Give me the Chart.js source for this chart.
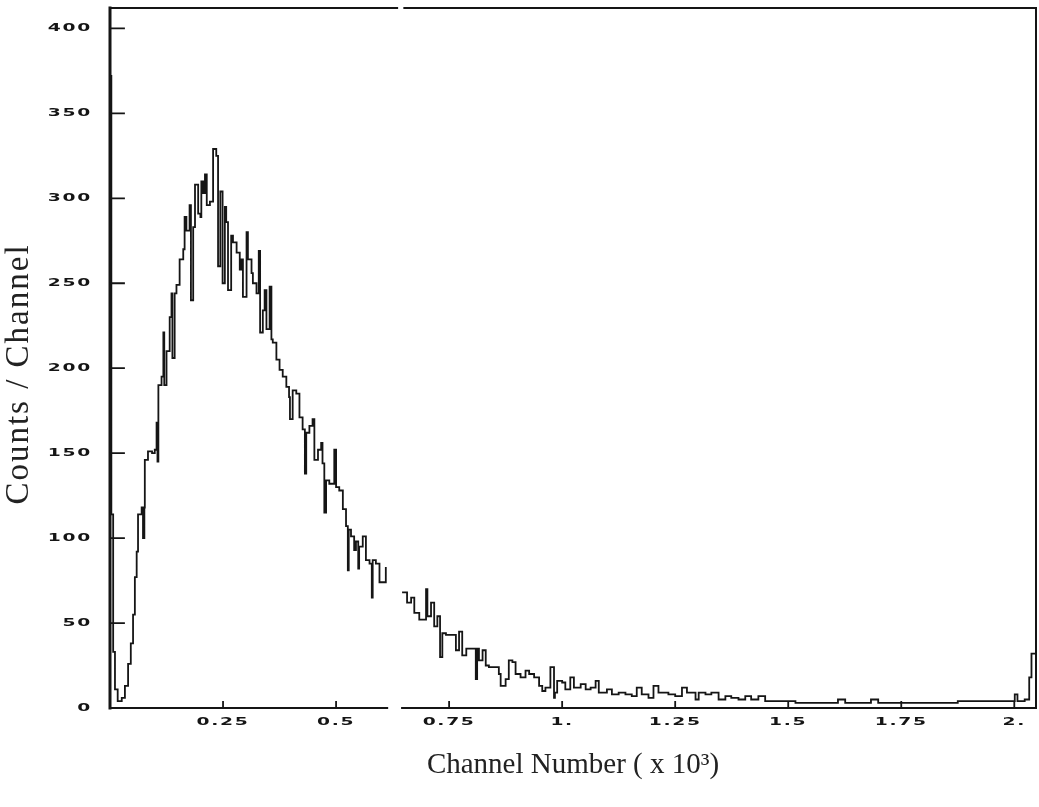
<!DOCTYPE html>
<html>
<head>
<meta charset="utf-8">
<title>Counts / Channel</title>
<script src="https://cdn.jsdelivr.net/npm/chart.js@4.4.1/dist/chart.umd.min.js"></script>
<style>
  html, body { margin: 0; padding: 0; background: #fff; }
  #spectrum { display: block; }
</style>
</head>
<body>
<canvas id="spectrum" width="1039" height="807"></canvas>
<script>
// pulse-height spectrum, 2048 channels
const channels = [
     0,    3,    7,   11,   17,   26,   33,   40,   46,   51,   55,   59,   62,   70,   73,   76,
    77,   84,   93,   99,  103,  105,  107,  114,  118,  120,  125,  132,  136,  138,  143,  147,
   154,  162,  165,  169,  176,  179,  184,  188,  195,  200,  202,  206,  210,  214,  221,  228,
   235,  239,  244,  249,  254,  257,  261,  268,  272,  280,  287,  291,  294,  302,  305,  313,
   316,  324,  329,  332,  338,  342,  346,  353,  357,  360,  368,  375,  382,  390,  396,  398,
   404,  412,  419,  426,  431,  434,  441,  448,  452,  460,  467,  470,  474,  478,  485,  496,
   500,  507,  515,  522,  526,  528,  533,  540,  544,  549,  551,  559,  566,  574,  579,  581,
   588,  596,  603,  610,  614,  646,  657,  666,  673,  684,  699,  702,  710,  717,  724,  730,
   735,  743,  765,  772,  779,  788,  809,  812,  816,  824,  831,  838,  853,  860,  864,  875,
   882,  890,  897,  908,  919,  927,  938,  949,  956,  963,  974,  982,  984,  989, 1000, 1007,
  1018, 1026, 1041, 1052, 1063, 1074, 1081, 1099, 1110, 1125, 1140, 1154, 1165, 1176, 1191, 1202,
  1213, 1235, 1250, 1265, 1276, 1295, 1302, 1317, 1330, 1346, 1361, 1374, 1390, 1405, 1418, 1434,
  1449, 1516, 1610, 1626, 1683, 1699, 1875, 1992, 2001, 2007, 2023, 2033, 2038, 2048
];
const counts = [
   372,  114,   33,   11,    4,    6,   13,   26,   38,   55,   77,   92,  114,  118,  100,  118,
   146,  151,  150,  152,  168,  145,  190,  195,  221,  190,  210,  230,  244,  206,  244,  249,
   264,  270,  289,  281,  296,  240,  283,  308,  291,  289,  310,  303,  314,  296,  298,  329,
   325,  260,  304,  250,  295,  286,  246,  278,  274,  268,  258,  264,  242,  280,  264,  256,
   250,  244,  269,  221,  234,  246,  223,  248,  217,  215,  205,  199,  195,  189,  183,  170,
   187,  185,  171,  164,  138,  162,  166,  170,  146,  152,  156,  144,  115,  134,  132,  152,
   130,  128,  117,  107,   81,  105,  101,   93,   98,   82,   95,  101,   87,   85,   65,   87,
    85,   74,   74,   83, null,   68,   62,   65,   56,   52,   70,   54,   62,   48,   54,   30,
    44,   43,   34,   45,   31,   35,   17,   35,   28,   34,   25,   24,   24,   20,   13,   17,
    28,   27,   20,   18,   22,   20,   18,   13,   10,   12,   24,    6,    9,   16,   15,   11,
    18,   12,   14,   11,   12,   16,    9,   11,    8,    9,    8,    7,   12,    8,    6,   13,
     9,    8,    7,   12,    9,    5,    9,    8,    9,    5,    7,    6,    5,    7,    5,    7,
     4,    3,    5,    3,    5,    3,    4,    4,    8,    4,    5,   18,   32,   32
];

const xMax = 2048;
const yMax = 412;
const yTicks = [0, 50, 100, 150, 200, 250, 300, 350, 400];
const xTicks = [250, 500, 750, 1000, 1250, 1500, 1750, 2000];
const xTickLabels = ['0.25', '0.5', '0.75', '1.', '1.25', '1.5', '1.75', '2.'];
// breaks in the top and bottom rules (channel ranges)
const topBreak = [635, 651];
const bottomBreak = [613, 646];

const yTitle = 'Counts / Channel';
const xTitle = 'Channel Number ( x 10³)';

const ink = '#151515';

// wide plotter-style numerals
function plotterText(ctx, text, px, py, align) {
  ctx.save();
  ctx.font = 'bold 11px "DejaVu Sans"';
  ctx.letterSpacing = '1px';
  const stretch = 1.7;
  const w = ctx.measureText(text).width * stretch;
  const left = align === 'right' ? px - w : px - w / 2;
  ctx.translate(left, py);
  ctx.scale(stretch, 1);
  ctx.textAlign = 'left';
  ctx.textBaseline = 'middle';
  ctx.fillStyle = ink;
  ctx.fillText(text, 0, 0);
  ctx.restore();
}

const framePlugin = {
  id: 'frame',
  afterDraw(chart) {
    const { ctx, chartArea: a } = chart;
    const x = chart.scales.x, y = chart.scales.y;
    ctx.save();
    ctx.strokeStyle = ink;
    ctx.lineCap = 'square';

    // box
    ctx.lineWidth = 3;
    ctx.beginPath();
    ctx.moveTo(a.left, a.bottom);
    ctx.lineTo(a.left, a.top);
    ctx.stroke();

    ctx.lineWidth = 2;
    ctx.beginPath();
    ctx.moveTo(a.left, a.top);
    ctx.lineTo(x.getPixelForValue(topBreak[0]), a.top);
    ctx.moveTo(x.getPixelForValue(topBreak[1]), a.top);
    ctx.lineTo(a.right, a.top);
    ctx.lineTo(a.right, a.bottom);
    ctx.lineTo(x.getPixelForValue(bottomBreak[1]), a.bottom);
    ctx.moveTo(x.getPixelForValue(bottomBreak[0]), a.bottom);
    ctx.lineTo(a.left, a.bottom);
    ctx.stroke();

    // inward tick marks
    ctx.lineWidth = 1.8;
    ctx.beginPath();
    yTicks.forEach(v => {
      const py = y.getPixelForValue(v);
      ctx.moveTo(a.left, py);
      ctx.lineTo(a.left + 14, py);
    });
    xTicks.forEach(v => {
      const px = x.getPixelForValue(v);
      ctx.moveTo(px, a.bottom);
      ctx.lineTo(px, a.bottom - 6);
    });
    ctx.stroke();

    // tick labels
    yTicks.forEach(v => plotterText(ctx, String(v), a.left - 18, y.getPixelForValue(v), 'right'));
    xTicks.forEach((v, i) => plotterText(ctx, xTickLabels[i], x.getPixelForValue(v), a.bottom + 14, 'center'));

    // axis titles
    ctx.fillStyle = '#222';
    ctx.textAlign = 'center';
    ctx.textBaseline = 'middle';
    ctx.font = '29px "Liberation Serif"';
    ctx.fillText(xTitle, (a.left + a.right) / 2, 765);
    ctx.font = '33px "Liberation Serif"';
    ctx.letterSpacing = '2px';
    ctx.translate(19, 374);
    ctx.rotate(-Math.PI / 2);
    ctx.fillText(yTitle, 0, 0);
    ctx.restore();
  }
};

new Chart(document.getElementById('spectrum'), {
  type: 'line',
  data: {
    datasets: [{
      data: channels.map((c, i) => ({ x: c, y: counts[i] })),
      stepped: true,
      spanGaps: false,
      borderColor: ink,
      borderWidth: 1.8,
      pointRadius: 0,
      fill: false
    }]
  },
  options: {
    responsive: false,
    animation: false,
    devicePixelRatio: 1,
    layout: { padding: { left: 110, top: 8, right: 3, bottom: 99 } },
    plugins: {
      legend: { display: false },
      tooltip: { enabled: false }
    },
    scales: {
      x: { type: 'linear', min: 0, max: xMax, display: false },
      y: { type: 'linear', min: 0, max: yMax, display: false }
    }
  },
  plugins: [framePlugin]
});
</script>
</body>
</html>
